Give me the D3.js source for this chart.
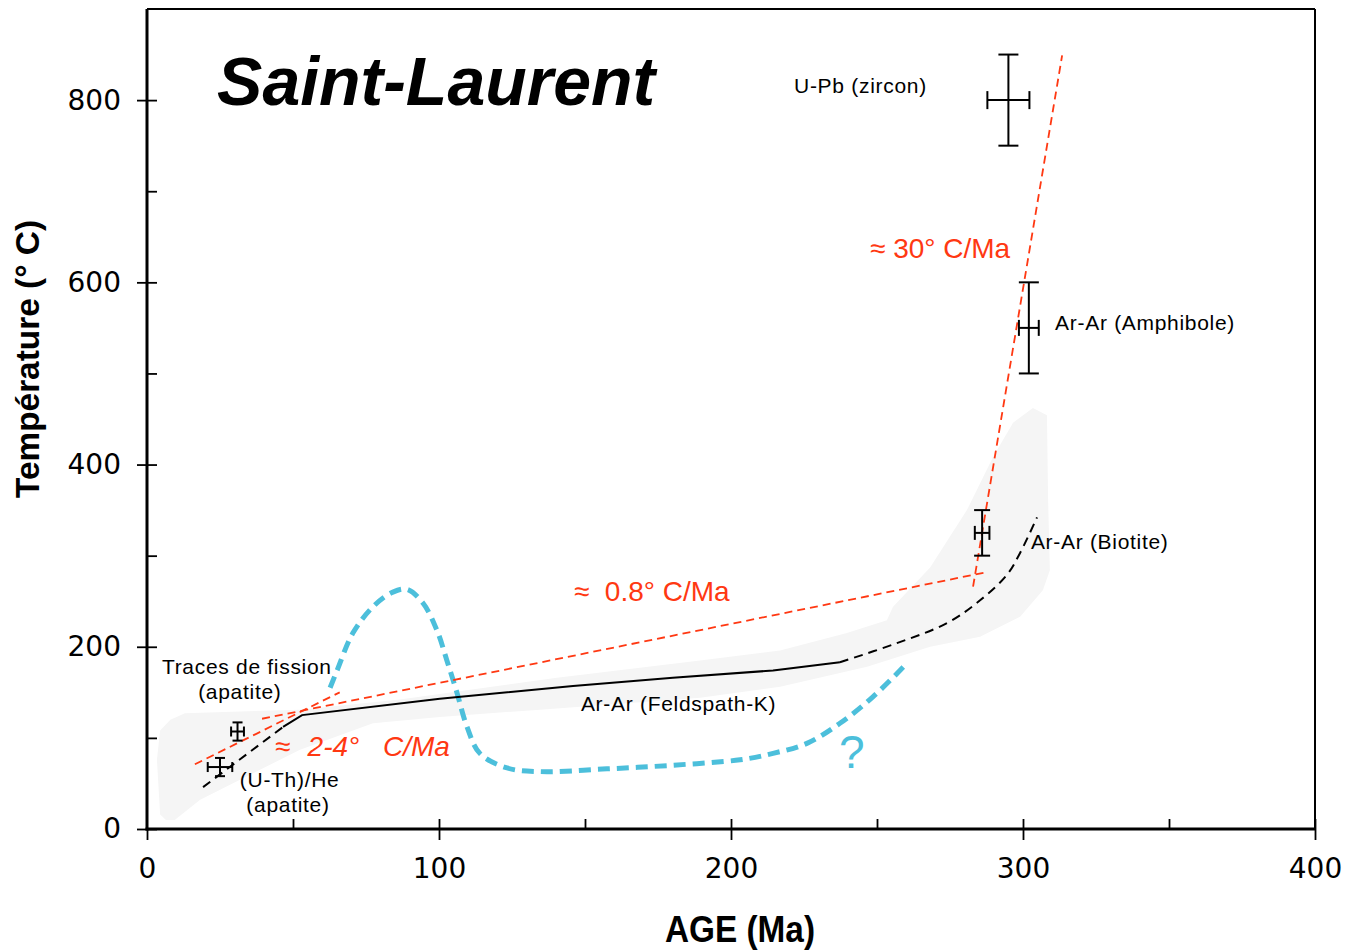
<!DOCTYPE html>
<html><head><meta charset="utf-8">
<script src="https://cdn.jsdelivr.net/npm/d3@7"></script>
<style>
html,body{margin:0;padding:0;background:#fff;}
svg{display:block;}
</style></head>
<body>
<svg id="c" width="1361" height="950"></svg>
<script>
// ---------- DATA ----------
const ageTicks = [0, 100, 200, 300, 400];
const ageMinorTicks = [50, 150, 250, 350];
const tempTicks = [0, 200, 400, 600, 800];
const tempMinorTicks = [100, 300, 500, 700];

// geochronometers (age Ma, temperature °C, uncertainties)
const sampleNames = ["U-Pb (zircon)", "Ar-Ar (Amphibole)", "Ar-Ar (Biotite)", "Traces de fission (apatite)", "(U-Th)/He (apatite)"];
const sampleAge = [295, 302, 286, 31, 25];
const sampleAgeErr = [7.2, 3.4, 2.5, 2.2, 4.2];
const sampleTemp = [800, 550, 325, 107, 68];
const sampleTempErr = [50, 50, 25, 10, 10];

// grey envelope (age, temp)
const bandAge = [4.5, 3.4, 4.5, 8.0, 13.0, 52.4, 86.6, 140.4, 189.4, 216.8, 239.7, 253.4, 255.5, 268.2, 280.8, 289.7, 296.6, 303.4, 308.2, 308.6, 309.2, 306.8, 299.0, 285.3, 268.2, 246.6, 216.8, 189.4, 134.6, 100.3, 77.4, 52.4, 18.2, 9.5, 6.5];
const bandTemp = [16, 76, 108, 120, 127, 131, 142, 166, 185, 196, 215, 229, 244, 287, 350, 408, 446, 462, 454, 361, 284, 262, 233, 211, 200, 178, 156, 144, 131, 123, 116, 87, 32, 10, 10];

// black path: low dashed part, solid Ar-Ar K-feldspar part, upper dashed part
const lowDashAge = [19.2, 46.6];
const lowDashTemp = [46, 112];
const solidAge = [46.6, 53.1, 100.3, 145.9, 180.1, 214.4, 237.3];
const solidTemp = [112, 125, 143, 157, 166, 174, 183];
const highDashAge = [237.3, 256.8, 274.0, 285.3, 294.5, 299.0, 304.8];
const highDashTemp = [183, 204, 226, 251, 279, 303, 342];

// red cooling-rate lines
const rateNames = ["2-4", "0.8", "30"];
const rateAgeStart = [16.4, 39.4, 282.9];
const rateTempStart = [71, 121, 266];
const rateAgeEnd = [66.0, 287.7, 313.4];
const rateTempEnd = [150, 282, 849];

// blue hypothetical path
const blueAge = [62.7, 65.1, 70.5, 77.4, 84.2, 89.0, 94.5, 99.3, 102.7, 106.2, 109.6, 114.0, 123.3, 134.6, 157.5, 180.1, 203.1, 214.4, 226.0, 237.3, 248.6, 260.3];
const blueTemp = [155, 174, 215, 244, 260, 263, 248, 218, 185, 149, 112, 83, 67, 63, 66, 70, 76, 83, 94, 116, 145, 182];

// ---------- DRAW ----------
const svg = d3.select("#c");
const x = d3.scaleLinear().domain([0, 400]).range([147, 1315]);
const y = d3.scaleLinear().domain([0, 900]).range([829, 9]);
const RED = "#ff3812", BLUE = "#4cbfdb";
const sansFont = "'Liberation Sans', Arial, Helvetica, sans-serif";
const narrowFont = "'Liberation Sans Narrow', 'Liberation Sans', Arial, sans-serif";

// grey band
const band = bandAge.map((a, i) => [a, bandTemp[i]]);
svg.append("path")
  .attr("d", d3.line().x(d => x(d[0])).y(d => y(d[1])).curve(d3.curveLinearClosed)(band))
  .attr("fill", "#f5f5f5");

// blue dotted path
svg.append("path")
  .attr("d", d3.line().x(d => x(d[0])).y(d => y(d[1])).curve(d3.curveCatmullRom.alpha(0.5))(blueAge.map((a, i) => [a, blueTemp[i]])))
  .attr("fill", "none").attr("stroke", BLUE).attr("stroke-width", 5).attr("stroke-dasharray", "12,7");

// red lines
rateNames.forEach((n, i) => {
  svg.append("line")
    .attr("x1", x(rateAgeStart[i])).attr("y1", y(rateTempStart[i]))
    .attr("x2", x(rateAgeEnd[i])).attr("y2", y(rateTempEnd[i]))
    .attr("stroke", RED).attr("stroke-width", 1.8).attr("stroke-dasharray", "8,5");
});

// black path
const lin = d3.line().x(d => x(d[0])).y(d => y(d[1]));
svg.append("path").attr("d", lin(lowDashAge.map((a, i) => [a, lowDashTemp[i]])))
  .attr("fill", "none").attr("stroke", "#000").attr("stroke-width", 2).attr("stroke-dasharray", "9,6");
svg.append("path").attr("d", lin(solidAge.map((a, i) => [a, solidTemp[i]])))
  .attr("fill", "none").attr("stroke", "#000").attr("stroke-width", 2);
svg.append("path").attr("d", lin.curve(d3.curveCatmullRom)(highDashAge.map((a, i) => [a, highDashTemp[i]])))
  .attr("fill", "none").attr("stroke", "#000").attr("stroke-width", 2).attr("stroke-dasharray", "9,6");

// error bars
const capV = [10, 10, 8, 5, 5];   // half-width of caps on temperature bar (px)
const capH = [9, 8, 7, 5, 5];     // half-height of caps on age bar (px)
sampleAge.forEach((a, i) => {
  const g = svg.append("g").attr("stroke", "#000").attr("stroke-width", 2).attr("fill", "none");
  const cx = x(a), cy = y(sampleTemp[i]);
  const yt = y(sampleTemp[i] + sampleTempErr[i]), yb = y(sampleTemp[i] - sampleTempErr[i]);
  const xl = x(a - sampleAgeErr[i]), xr = x(a + sampleAgeErr[i]);
  g.append("line").attr("x1", cx).attr("x2", cx).attr("y1", yt).attr("y2", yb);
  g.append("line").attr("x1", cx - capV[i]).attr("x2", cx + capV[i]).attr("y1", yt).attr("y2", yt);
  g.append("line").attr("x1", cx - capV[i]).attr("x2", cx + capV[i]).attr("y1", yb).attr("y2", yb);
  g.append("line").attr("x1", xl).attr("x2", xr).attr("y1", cy).attr("y2", cy);
  g.append("line").attr("x1", xl).attr("x2", xl).attr("y1", cy - capH[i]).attr("y2", cy + capH[i]);
  g.append("line").attr("x1", xr).attr("x2", xr).attr("y1", cy - capH[i]).attr("y2", cy + capH[i]);
});

// axes
const axG = svg.append("g");
axG.append("line").attr("x1", x(0)).attr("x2", x(400)).attr("y1", y(900)).attr("y2", y(900)).attr("stroke", "#000").attr("stroke-width", 2);
axG.append("line").attr("x1", x(400)).attr("x2", x(400)).attr("y1", y(900)).attr("y2", y(0)).attr("stroke", "#000").attr("stroke-width", 2);

const yAx = axG.append("g").attr("transform", `translate(${x(0)},0)`)
  .call(d3.axisLeft(y).tickValues(tempTicks).tickSize(10).tickPadding(16));
const yAxIn = axG.append("g").attr("transform", `translate(${x(0)},0)`)
  .call(d3.axisRight(y).tickValues(tempTicks.concat(tempMinorTicks)).tickSize(10).tickFormat(""));
const xAx = axG.append("g").attr("transform", `translate(0,${y(0)})`)
  .call(d3.axisBottom(x).tickValues(ageTicks).tickSize(11).tickPadding(18));
const xAxIn = axG.append("g").attr("transform", `translate(0,${y(0)})`)
  .call(d3.axisTop(x).tickValues(ageTicks.slice(1).concat(ageMinorTicks)).tickSize(10).tickFormat(""));
[yAx, yAxIn, xAx, xAxIn].forEach(g => {
  g.select(".domain").remove();
  g.selectAll(".tick line").attr("stroke", "#000").attr("stroke-width", 1.8);
  g.selectAll("text").attr("font-family", "'DejaVu Sans', Verdana, sans-serif").attr("font-size", 28).attr("fill", "#000");
});
axG.append("line").attr("x1", x(0)).attr("x2", x(0)).attr("y1", y(900)).attr("y2", y(0) + 1.5).attr("stroke", "#000").attr("stroke-width", 3);
axG.append("line").attr("x1", x(0) - 1.5).attr("x2", x(400) + 1).attr("y1", y(0)).attr("y2", y(0)).attr("stroke", "#000").attr("stroke-width", 3);

// axis titles
svg.append("text").text("AGE (Ma)")
  .attr("x", 740).attr("y", 942).attr("text-anchor", "middle")
  .attr("font-family", narrowFont).attr("font-weight", "bold").attr("font-size", 36)
  .attr("textLength", 150).attr("lengthAdjust", "spacingAndGlyphs");
svg.append("text").text("Température (° C)")
  .attr("transform", "translate(39,359) rotate(-90)").attr("text-anchor", "middle")
  .attr("font-family", narrowFont).attr("font-weight", "bold").attr("font-size", 34)
  .attr("textLength", 278).attr("lengthAdjust", "spacingAndGlyphs");

// title
svg.append("text").text("Saint-Laurent")
  .attr("x", x(24)).attr("y", 105)
  .attr("font-family", sansFont).attr("font-weight", "bold").attr("font-style", "italic").attr("font-size", 68)
  .attr("textLength", 438).attr("lengthAdjust", "spacingAndGlyphs");

// black labels
const lab = (t, a, tp, anchor) => svg.append("text").text(t)
  .attr("x", x(a)).attr("y", y(tp)).attr("text-anchor", anchor || "start")
  .attr("font-family", sansFont).attr("font-size", 21).attr("letter-spacing", 0.7).attr("fill", "#000");
lab(sampleNames[0], 221.6, 807.6);
lab(sampleNames[1], 311.0, 547.6);
lab(sampleNames[2], 302.7, 307.3);
lab("Ar-Ar (Feldspath-K)", 148.6, 129.5);
lab("Traces de fission", 5.1, 170.1);
lab("(apatite)", 31.8, 142.7, "middle");
lab("(U-Th)/He", 31.8, 46.1);
lab("(apatite)", 48.3, 18.7, "middle");

// red labels
const rlab = (t, a, tp, italic) => svg.append("text").text(t)
  .attr("x", x(a)).attr("y", y(tp)).attr("xml:space", "preserve")
  .attr("font-family", sansFont).attr("font-size", 28).attr("fill", RED)
  .attr("font-style", italic ? "italic" : "normal");
rlab("\u2248 " + rateNames[2] + "\u00b0 C/Ma", 247.6, 626.6);
rlab("\u2248  " + rateNames[1] + "\u00b0 C/Ma", 146.2, 250.2);
const r3 = rlab("\u2248", 43.8, 80.1, false);
svg.append("text").text(rateNames[0] + "\u00b0").attr("x", x(55.0)).attr("y", y(80.1))
  .attr("font-family", sansFont).attr("font-size", 28).attr("fill", RED).attr("font-style", "italic");
svg.append("text").text("C/Ma").attr("x", x(80.8)).attr("y", y(80.1))
  .attr("font-family", sansFont).attr("font-size", 28).attr("fill", RED).attr("font-style", "italic");

// question mark
svg.append("text").text("?").attr("x", x(241.4)).attr("y", y(67)).attr("text-anchor", "middle")
  .attr("font-family", sansFont).attr("font-size", 46).attr("fill", BLUE);
</script>
</body></html>
